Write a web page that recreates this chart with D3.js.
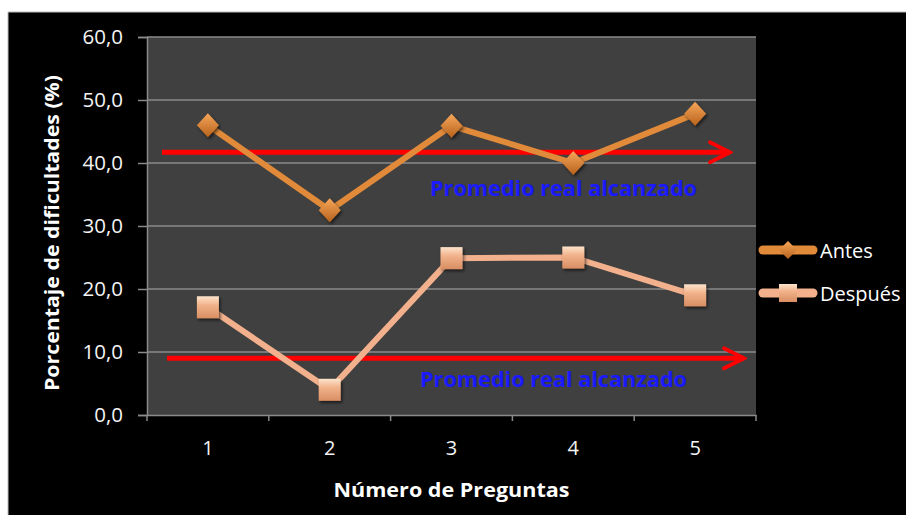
<!DOCTYPE html>
<html lang="es">
<head>
<meta charset="UTF-8">
<title>Porcentaje de dificultades</title>
<style>
  html, body { margin: 0; padding: 0; background: #fff; }
  svg { display: block; }
</style>
</head>
<body>
<svg id="svg" width="906" height="515"></svg>
<script src="https://d3js.org/d3.v7.min.js"></script>
<script>
const categories = ['1', '2', '3', '4', '5'];
const antes = [46.0, 32.5, 45.9, 40.0, 47.8];
const despues = [17.1, 4.0, 24.9, 25.0, 19.0];
const yTicks = [0, 10, 20, 30, 40, 50, 60];
const promedios = [41.7, 9.0];
const promedioLabel = 'Promedio real alcanzado';

const svg = d3.select('#svg');
const x0 = 147, x1 = 756, y0 = 415, y1 = 37;
const font = 'Open Sans, sans-serif';

// black chart area
svg.append('rect').attr('x', 8).attr('y', 12).attr('width', 898).attr('height', 503)
  .attr('fill', '#000');
svg.append('line').attr('x1', 8).attr('x2', 906).attr('y1', 12).attr('y2', 12)
  .attr('stroke', '#bbb').attr('stroke-width', 1);
svg.append('line').attr('x1', 8).attr('x2', 8).attr('y1', 12).attr('y2', 515)
  .attr('stroke', '#bbb').attr('stroke-width', 1);

const x = d3.scaleBand().domain(categories).range([x0, x1]);
const y = d3.scaleLinear().domain([0, 60]).range([y0, y1]);

const defs = svg.append('defs');
const g1 = defs.append('linearGradient').attr('id', 'gAntes').attr('x1', 0).attr('y1', 0).attr('x2', 0).attr('y2', 1);
g1.append('stop').attr('offset', '0%').attr('stop-color', '#f6a65a');
g1.append('stop').attr('offset', '100%').attr('stop-color', '#b8621c');
const g2 = defs.append('linearGradient').attr('id', 'gDesp').attr('x1', 0).attr('y1', 0).attr('x2', 0).attr('y2', 1);
g2.append('stop').attr('offset', '0%').attr('stop-color', '#fde4cc');
g2.append('stop').attr('offset', '40%').attr('stop-color', '#f1b28a');
g2.append('stop').attr('offset', '100%').attr('stop-color', '#d98e63');
const shadow = defs.append('filter').attr('id', 'shadow').attr('x', '-50%').attr('y', '-50%').attr('width', '200%').attr('height', '200%');
shadow.append('feDropShadow').attr('dx', 1.5).attr('dy', 2).attr('stdDeviation', 1.5).attr('flood-color', '#000').attr('flood-opacity', 0.6);
const arrowHead = defs.append('marker').attr('id', 'arrow').attr('viewBox', '0 0 10 10')
  .attr('refX', 9).attr('refY', 5).attr('markerWidth', 5).attr('markerHeight', 5)
  .attr('markerUnits', 'strokeWidth').attr('orient', 'auto');
arrowHead.append('path').attr('d', 'M1,1 L9,5 L1,9').attr('fill', 'none')
  .attr('stroke', '#ff0000').attr('stroke-width', 1.5).attr('stroke-linecap', 'round');

// plot background
svg.append('rect').attr('x', x0).attr('y', y1).attr('width', x1 - x0).attr('height', y0 - y1)
  .attr('fill', '#404040');

// gridlines
svg.append('g').selectAll('line').data(yTicks.filter(d => d > 0)).enter().append('line')
  .attr('x1', x0).attr('x2', x1)
  .attr('y1', d => y(d)).attr('y2', d => y(d))
  .attr('stroke', '#8a8a8a').attr('stroke-width', 1.5);

// y axis
const yAxis = svg.append('g').attr('transform', `translate(${x0},0)`)
  .call(d3.axisLeft(y).tickValues(yTicks).tickSize(9).tickPadding(15)
    .tickFormat(d => d.toFixed(1).replace('.', ',')));
yAxis.select('.domain').attr('stroke', '#8a8a8a').attr('stroke-width', 1.5);
yAxis.selectAll('.tick line').attr('stroke', '#8a8a8a').attr('stroke-width', 1.5);
yAxis.selectAll('text').attr('fill', '#f4f4f4').style('font-family', font).style('font-size', '20.5px');

// x axis
const xAxis = svg.append('g').attr('transform', `translate(0,${y0})`)
  .call(d3.axisBottom(x).tickSize(0).tickPadding(26));
xAxis.select('.domain').attr('stroke', '#8a8a8a').attr('stroke-width', 1.5);
xAxis.selectAll('text').attr('fill', '#f4f4f4').style('font-family', font).style('font-size', '20px');
svg.append('g').selectAll('line').data(categories.concat(['end'])).enter().append('line')
  .attr('x1', (d, i) => i < categories.length ? x(d) : x1)
  .attr('x2', (d, i) => i < categories.length ? x(d) : x1)
  .attr('y1', y0).attr('y2', y0 + 6)
  .attr('stroke', '#8a8a8a').attr('stroke-width', 1.5);

// axis titles
svg.append('text').attr('transform', `translate(59,${(y0 + y1) / 2 + 7}) rotate(-90)`)
  .attr('text-anchor', 'middle').attr('fill', '#fff')
  .attr('textLength', 316).attr('lengthAdjust', 'spacingAndGlyphs')
  .style('font-family', font).style('font-weight', 'bold').style('font-size', '19px')
  .text('Porcentaje de dificultades (%)');
svg.append('text').attr('x', (x0 + x1) / 2).attr('y', 497)
  .attr('text-anchor', 'middle').attr('fill', '#fff')
  .attr('textLength', 236).attr('lengthAdjust', 'spacingAndGlyphs')
  .style('font-family', font).style('font-weight', 'bold').style('font-size', '19px')
  .text('Número de Preguntas');

const cx = d => x(d) + x.bandwidth() / 2;
const line = d3.line().x(d => cx(d.c)).y(d => y(d.v));
const seriesA = categories.map((c, i) => ({ c, v: antes[i] }));
const seriesD = categories.map((c, i) => ({ c, v: despues[i] }));

// red average arrows
const arrowSpan = [[162, 730], [167, 744]];
svg.append('g').selectAll('line').data(promedios).enter().append('line')
  .attr('x1', (d, i) => arrowSpan[i][0]).attr('x2', (d, i) => arrowSpan[i][1])
  .attr('y1', d => y(d)).attr('y2', d => y(d))
  .attr('stroke', '#ff0000').attr('stroke-width', 5)
  .attr('marker-end', 'url(#arrow)');

// lines
svg.append('path').datum(seriesA).attr('d', line).attr('fill', 'none')
  .attr('stroke', '#e08a3a').attr('stroke-width', 6).attr('stroke-linejoin', 'round');
svg.append('path').datum(seriesD).attr('d', line).attr('fill', 'none')
  .attr('stroke', '#f3b08c').attr('stroke-width', 6).attr('stroke-linejoin', 'round');

// markers
const diamond = 'M0,-12 L11,0 L0,12 L-11,0 Z';
svg.append('g').selectAll('path').data(seriesA).enter().append('path')
  .attr('transform', d => `translate(${cx(d.c)},${y(d.v)})`)
  .attr('d', diamond).attr('fill', 'url(#gAntes)').attr('filter', 'url(#shadow)');
svg.append('g').selectAll('rect').data(seriesD).enter().append('rect')
  .attr('x', d => cx(d.c) - 11).attr('y', d => y(d.v) - 11)
  .attr('width', 22).attr('height', 22)
  .attr('fill', 'url(#gDesp)').attr('filter', 'url(#shadow)');

// labels
const labelPos = [[430, 196], [420, 387]];
svg.append('g').selectAll('text').data(promedios).enter().append('text')
  .attr('x', (d, i) => labelPos[i][0]).attr('y', (d, i) => labelPos[i][1])
  .attr('fill', '#1a1aff').attr('textLength', 267).attr('lengthAdjust', 'spacingAndGlyphs')
  .style('font-family', font).style('font-size', '21px').style('font-weight', 'bold')
  .text(promedioLabel);

// legend
const legend = [
  { name: 'Antes', color: '#e08a3a', fill: 'url(#gAntes)', shape: 'diamond' },
  { name: 'Después', color: '#f3b08c', fill: 'url(#gDesp)', shape: 'square' }
];
const lg = svg.append('g').selectAll('g').data(legend).enter().append('g')
  .attr('transform', (d, i) => `translate(763,${250 + i * 43})`);
lg.append('line').attr('x1', 0).attr('x2', 50).attr('stroke', d => d.color)
  .attr('stroke-width', 9).attr('stroke-linecap', 'round');
lg.append('path').attr('d', d => d.shape === 'diamond' ? 'M0,-9 L9,0 L0,9 L-9,0 Z' : 'M-9,-9 L9,-9 L9,9 L-9,9 Z')
  .attr('transform', 'translate(25,0)').attr('fill', d => d.fill);
lg.append('text').attr('x', 57).attr('y', 8).attr('fill', '#fff')
  .style('font-family', font).style('font-size', '20px')
  .text(d => d.name);
</script>
</body>
</html>
